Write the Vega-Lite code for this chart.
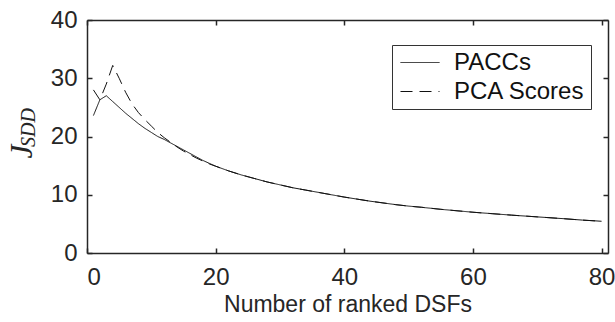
{
  "$schema": "https://vega.github.io/schema/vega-lite/v6.json",
  "width": 521,
  "height": 233,
  "autosize": {"type": "none"},
  "padding": {"left": 87, "top": 20, "right": 7, "bottom": 69},
  "background": "white",
  "config": {
    "view": {"stroke": null},
    "font": "Liberation Sans",
    "axis": {
      "domainColor": "#262626",
      "domainWidth": 1.5,
      "tickColor": "#262626",
      "tickWidth": 1.5,
      "tickSize": -5,
      "labelColor": "#262626",
      "labelFont": "Liberation Sans",
      "labelFontSize": 24,
      "titleColor": "#262626",
      "titleFont": "Liberation Sans",
      "titleFontSize": 23,
      "titleFontWeight": "normal",
      "grid": false
    }
  },
  "data": {
    "values": [
      {"x": 1, "y": 23.6, "series": "PACCs"},
      {"x": 2, "y": 26.3, "series": "PACCs"},
      {"x": 3, "y": 27.0, "series": "PACCs"},
      {"x": 4, "y": 26.0, "series": "PACCs"},
      {"x": 5, "y": 25.0, "series": "PACCs"},
      {"x": 6, "y": 24.0, "series": "PACCs"},
      {"x": 7, "y": 23.1, "series": "PACCs"},
      {"x": 8, "y": 22.2, "series": "PACCs"},
      {"x": 9, "y": 21.4, "series": "PACCs"},
      {"x": 10, "y": 20.7, "series": "PACCs"},
      {"x": 11, "y": 20.0, "series": "PACCs"},
      {"x": 12, "y": 19.5, "series": "PACCs"},
      {"x": 13, "y": 18.9, "series": "PACCs"},
      {"x": 14, "y": 18.3, "series": "PACCs"},
      {"x": 15, "y": 17.7, "series": "PACCs"},
      {"x": 16, "y": 17.1, "series": "PACCs"},
      {"x": 17, "y": 16.5, "series": "PACCs"},
      {"x": 18, "y": 15.9, "series": "PACCs"},
      {"x": 19, "y": 15.4, "series": "PACCs"},
      {"x": 20, "y": 14.9, "series": "PACCs"},
      {"x": 22, "y": 14.1, "series": "PACCs"},
      {"x": 24, "y": 13.4, "series": "PACCs"},
      {"x": 26, "y": 12.8, "series": "PACCs"},
      {"x": 28, "y": 12.2, "series": "PACCs"},
      {"x": 30, "y": 11.7, "series": "PACCs"},
      {"x": 32, "y": 11.2, "series": "PACCs"},
      {"x": 34, "y": 10.8, "series": "PACCs"},
      {"x": 36, "y": 10.4, "series": "PACCs"},
      {"x": 38, "y": 10.0, "series": "PACCs"},
      {"x": 40, "y": 9.6, "series": "PACCs"},
      {"x": 42, "y": 9.25, "series": "PACCs"},
      {"x": 44, "y": 8.9, "series": "PACCs"},
      {"x": 46, "y": 8.6, "series": "PACCs"},
      {"x": 48, "y": 8.3, "series": "PACCs"},
      {"x": 50, "y": 8.05, "series": "PACCs"},
      {"x": 52, "y": 7.85, "series": "PACCs"},
      {"x": 55, "y": 7.5, "series": "PACCs"},
      {"x": 58, "y": 7.2, "series": "PACCs"},
      {"x": 60, "y": 7.0, "series": "PACCs"},
      {"x": 63, "y": 6.75, "series": "PACCs"},
      {"x": 66, "y": 6.5, "series": "PACCs"},
      {"x": 70, "y": 6.2, "series": "PACCs"},
      {"x": 74, "y": 5.9, "series": "PACCs"},
      {"x": 77, "y": 5.65, "series": "PACCs"},
      {"x": 80, "y": 5.45, "series": "PACCs"},
      {"x": 1, "y": 28.0, "series": "PCA Scores"},
      {"x": 2, "y": 26.3, "series": "PCA Scores"},
      {"x": 3, "y": 29.0, "series": "PCA Scores"},
      {"x": 4, "y": 32.2, "series": "PCA Scores"},
      {"x": 5, "y": 30.0, "series": "PCA Scores"},
      {"x": 6, "y": 27.6, "series": "PCA Scores"},
      {"x": 7, "y": 25.6, "series": "PCA Scores"},
      {"x": 8, "y": 24.1, "series": "PCA Scores"},
      {"x": 9, "y": 22.9, "series": "PCA Scores"},
      {"x": 10, "y": 21.8, "series": "PCA Scores"},
      {"x": 11, "y": 20.7, "series": "PCA Scores"},
      {"x": 12, "y": 19.8, "series": "PCA Scores"},
      {"x": 13, "y": 19.0, "series": "PCA Scores"},
      {"x": 14, "y": 18.2, "series": "PCA Scores"},
      {"x": 15, "y": 17.5, "series": "PCA Scores"},
      {"x": 16, "y": 16.9, "series": "PCA Scores"},
      {"x": 17, "y": 16.3, "series": "PCA Scores"},
      {"x": 18, "y": 15.8, "series": "PCA Scores"},
      {"x": 19, "y": 15.3, "series": "PCA Scores"},
      {"x": 20, "y": 14.9, "series": "PCA Scores"},
      {"x": 22, "y": 14.1, "series": "PCA Scores"},
      {"x": 24, "y": 13.4, "series": "PCA Scores"},
      {"x": 26, "y": 12.8, "series": "PCA Scores"},
      {"x": 28, "y": 12.2, "series": "PCA Scores"},
      {"x": 30, "y": 11.7, "series": "PCA Scores"},
      {"x": 32, "y": 11.2, "series": "PCA Scores"},
      {"x": 34, "y": 10.8, "series": "PCA Scores"},
      {"x": 36, "y": 10.4, "series": "PCA Scores"},
      {"x": 38, "y": 10.0, "series": "PCA Scores"},
      {"x": 40, "y": 9.6, "series": "PCA Scores"},
      {"x": 42, "y": 9.25, "series": "PCA Scores"},
      {"x": 44, "y": 8.9, "series": "PCA Scores"},
      {"x": 46, "y": 8.6, "series": "PCA Scores"},
      {"x": 48, "y": 8.3, "series": "PCA Scores"},
      {"x": 50, "y": 8.05, "series": "PCA Scores"},
      {"x": 52, "y": 7.85, "series": "PCA Scores"},
      {"x": 55, "y": 7.5, "series": "PCA Scores"},
      {"x": 58, "y": 7.2, "series": "PCA Scores"},
      {"x": 60, "y": 7.0, "series": "PCA Scores"},
      {"x": 63, "y": 6.75, "series": "PCA Scores"},
      {"x": 66, "y": 6.5, "series": "PCA Scores"},
      {"x": 70, "y": 6.2, "series": "PCA Scores"},
      {"x": 74, "y": 5.9, "series": "PCA Scores"},
      {"x": 77, "y": 5.65, "series": "PCA Scores"},
      {"x": 80, "y": 5.45, "series": "PCA Scores"}
    ]
  },
  "layer": [
    {
      "mark": {"type": "line", "color": "#111111", "strokeWidth": 1},
      "encoding": {
        "x": {
          "field": "x", "type": "quantitative",
          "scale": {"domain": [0, 81], "nice": false, "zero": false},
          "axis": {"orient": "bottom", "values": [0, 20, 40, 60, 80], "labelPadding": 17, "title": "Number of ranked DSFs", "titlePadding": 4}
        },
        "y": {
          "field": "y", "type": "quantitative",
          "scale": {"domain": [0, 40], "nice": false},
          "axis": {
            "orient": "left", "values": [0, 10, 20, 30, 40], "labelPadding": 15,
            "title": "J", "titleFont": "Liberation Serif", "titleFontStyle": "italic", "titleFontSize": 31,
            "titleAngle": -90, "titleAlign": "center", "titleBaseline": "alphabetic",
            "titleX": -56, "titleY": 131
          }
        },
        "strokeDash": {
          "field": "series", "type": "nominal",
          "scale": {"domain": ["PACCs", "PCA Scores"], "range": [[1, 0], [12, 7]]},
          "legend": {
            "title": null, "orient": "none", "legendX": 305, "legendY": 25,
            "symbolType": "M-2,0H2", "symbolSize": 380, "symbolOffset": 10.5, "symbolStrokeColor": "#111111", "symbolStrokeWidth": 1, "symbolFillColor": "transparent",
            "labelFont": "Liberation Sans", "labelFontSize": 24, "labelColor": "#111111", "labelOffset": 22,
            "rowPadding": 5, "padding": 5.5, "strokeColor": "#333333", "fillColor": "white"
          }
        }
      }
    },
    {
      "mark": {"type": "line", "strokeOpacity": 0},
      "encoding": {
        "x": {
          "field": "x", "type": "quantitative",
          "axis": {"orient": "top", "values": [0, 20, 40, 60, 80], "labels": false, "title": null}
        },
        "y": {
          "field": "y", "type": "quantitative",
          "axis": {"orient": "right", "values": [0, 10, 20, 30, 40], "labels": false, "title": null}
        },
        "detail": {"field": "series"}
      }
    },
    {
      "mark": {"type": "line", "strokeOpacity": 0},
      "encoding": {
        "x": {"field": "x", "type": "quantitative", "axis": null},
        "y": {
          "field": "y", "type": "quantitative",
          "axis": {
            "orient": "left", "labels": false, "ticks": false, "domain": false,
            "title": "SDD", "titleFont": "Liberation Serif", "titleFontStyle": "italic", "titleFontSize": 20,
            "titleAngle": -90, "titleAlign": "center", "titleBaseline": "alphabetic",
            "titleX": -53, "titleY": 107
          }
        },
        "detail": {"field": "series"}
      }
    }
  ],
  "resolve": {"axis": {"x": "independent", "y": "independent"}}
}
